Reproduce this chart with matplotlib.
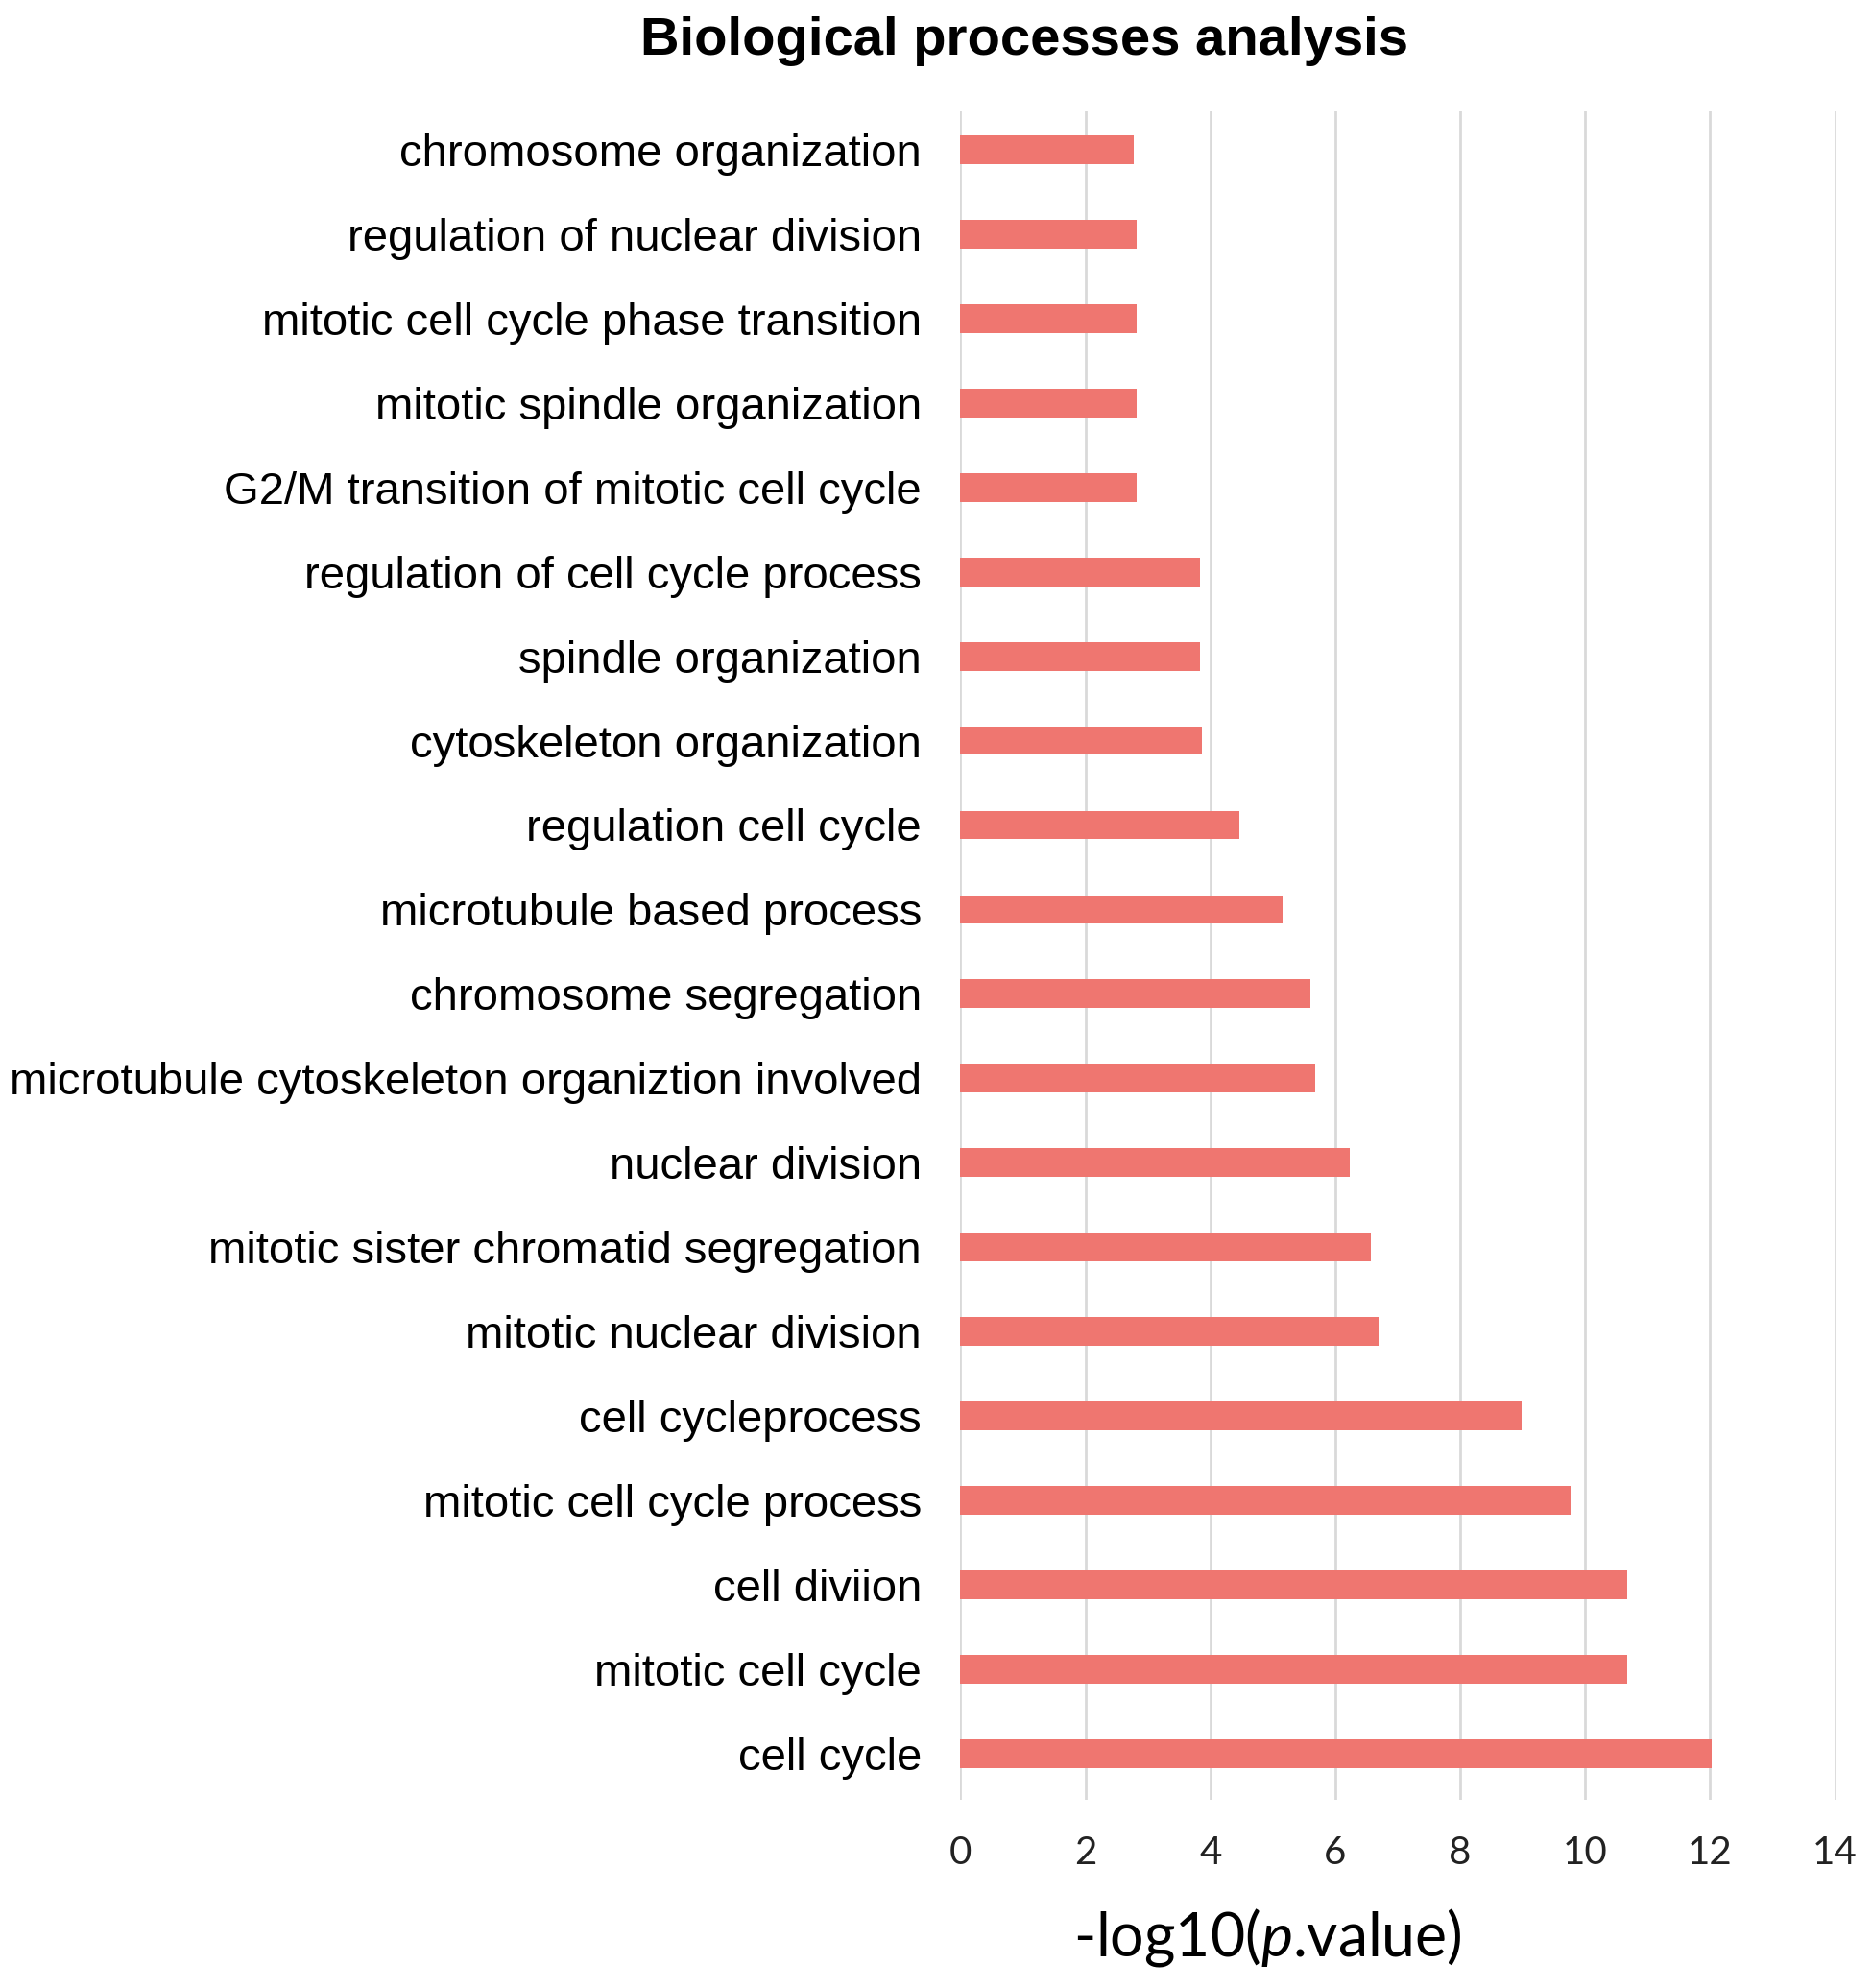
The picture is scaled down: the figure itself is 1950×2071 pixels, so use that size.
import matplotlib
matplotlib.use("Agg")
import matplotlib.pyplot as plt

# terms listed top to bottom as in the figure
terms = [
    "chromosome organization",
    "regulation of nuclear division",
    "mitotic cell cycle phase transition",
    "mitotic spindle organization",
    "G2/M transition of mitotic cell cycle",
    "regulation of cell cycle process",
    "spindle organization",
    "cytoskeleton organization",
    "regulation cell cycle",
    "microtubule based process",
    "chromosome segregation",
    "microtubule cytoskeleton organiztion involved",
    "nuclear division",
    "mitotic sister chromatid segregation",
    "mitotic nuclear division",
    "cell cycleprocess",
    "mitotic cell cycle process",
    "cell diviion",
    "mitotic cell cycle",
    "cell cycle",
]
neglog_p = [2.78, 2.82, 2.82, 2.82, 2.82, 3.83, 3.83, 3.87, 4.46, 5.15,
            5.6, 5.68, 6.23, 6.57, 6.69, 8.99, 9.76, 10.67, 10.67, 12.03]
xticks = [0, 2, 4, 6, 8, 10, 12, 14]

plt.rcParams["mathtext.fontset"] = "custom"
plt.rcParams["mathtext.rm"] = "Lato"
plt.rcParams["mathtext.it"] = "Lato:italic"

fig = plt.figure(figsize=(19.5, 20.71), dpi=100)
ax = fig.add_axes([0.513, 0.0944, 0.4673, 0.8495])

# bottom bar is "cell cycle"
ypos = list(range(len(terms)))[::-1]
ax.barh(ypos, neglog_p, height=0.34, color="#EF7670", zorder=3)

ax.set_xlim(0, 14)
ax.set_ylim(-0.55, len(terms) - 0.55)
ax.set_xticks(xticks)
ax.set_xticklabels([str(t) for t in xticks], fontfamily="Lato", fontsize=29, color="#222222")
ax.set_yticks(ypos)
ax.set_yticklabels(terms, fontfamily="Liberation Sans", fontsize=34)
ax.tick_params(axis="both", length=0)
ax.tick_params(axis="x", pad=26)
ax.tick_params(axis="y", pad=29)
ax.grid(axis="x", color="#d9d9d9", linewidth=2, zorder=0)
for s in ax.spines.values():
    s.set_visible(False)

fig.text(0.547, 0.979, "Biological processes analysis", ha="center", va="center",
         fontfamily="Liberation Sans", fontweight="bold", fontsize=40.5)
fig.text(0.677, 0.0255, "-log10($\\it{p}$.value)", ha="center", va="center",
         fontfamily="Lato", fontsize=45)

fig.savefig("out.png", dpi=100, facecolor="white")
